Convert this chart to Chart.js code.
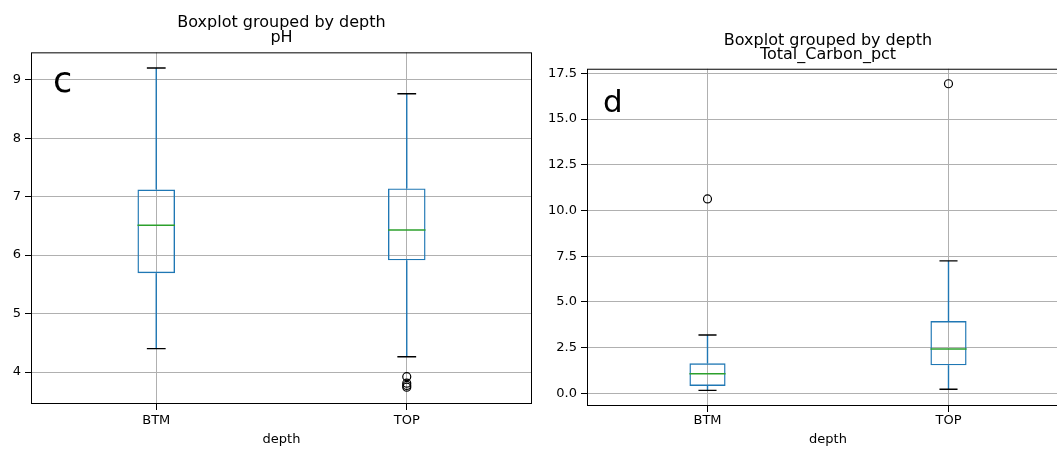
<!DOCTYPE html>
<html>
<head>
<meta charset="utf-8">
<script src="https://cdn.jsdelivr.net/npm/chart.js@4"></script>
<style>
  html, body { margin: 0; padding: 0; background: #fff; overflow: hidden; }
  #wrap { position: relative; width: 1057px; height: 449px; overflow: hidden; }
  canvas { position: absolute; top: 0; }
  #phChart { left: 0; }
  #carbonChart { left: 546px; }
</style>
</head>
<body>
<div id="wrap">
  <canvas id="phChart" width="540" height="449"></canvas>
  <canvas id="carbonChart" width="540" height="449"></canvas>
</div>
<script>
// Categories
const depthLabels = ['BTM', 'TOP'];

// pH box statistics
const phWhiskerLow = [4.40, 4.26];
const phQ1 = [5.69, 5.91];
const phMedian = [6.51, 6.43];
const phQ3 = [7.12, 7.14];
const phWhiskerHigh = [9.20, 8.76];
const phOutliers = [[], [3.92, 3.81, 3.77, 3.74]];
const phTicks = [4, 5, 6, 7, 8, 9];
const phRange = [3.453, 9.468];

// Total carbon box statistics
const carbonWhiskerLow = [0.16, 0.22];
const carbonQ1 = [0.40, 1.53];
const carbonMedian = [1.07, 2.42];
const carbonQ3 = [1.64, 3.95];
const carbonWhiskerHigh = [3.19, 7.24];
const carbonOutliers = [[10.63], [16.93]];
const carbonTicks = [0, 2.5, 5, 7.5, 10, 12.5, 15, 17.5];
const carbonRange = [-0.695, 17.75];

const FONT = 'DejaVu Sans';
const BLUE = '#1f77b4';
const GREEN = '#2ca02c';
const GRID = '#b0b0b0';

// whiskers, caps, medians, frame and panel letter
function boxPlugin(low, high, median, letter, dx, dy, size) {
    return {
        id: 'boxExtras',
        afterDatasetsDraw(chart) {
            const { ctx, chartArea } = chart;
            const y = chart.scales.y;
            const bars = chart.getDatasetMeta(0).data;
            ctx.save();
            ctx.lineWidth = 1.4;
            bars.forEach((bar, i) => {
                const cx = bar.x;
                const half = bar.width / 2;
                const top = Math.min(bar.y, bar.base);
                const bottom = Math.max(bar.y, bar.base);
                const yHigh = y.getPixelForValue(high[i]);
                const yLow = y.getPixelForValue(low[i]);
                const yMed = y.getPixelForValue(median[i]);

                ctx.strokeStyle = BLUE;
                ctx.beginPath();
                ctx.moveTo(cx, top); ctx.lineTo(cx, yHigh);
                ctx.moveTo(cx, bottom); ctx.lineTo(cx, yLow);
                ctx.stroke();

                ctx.strokeStyle = '#000';
                ctx.beginPath();
                ctx.moveTo(cx - half / 2, yHigh); ctx.lineTo(cx + half / 2, yHigh);
                ctx.moveTo(cx - half / 2, yLow); ctx.lineTo(cx + half / 2, yLow);
                ctx.stroke();

                ctx.strokeStyle = GREEN;
                ctx.beginPath();
                ctx.moveTo(cx - half, yMed); ctx.lineTo(cx + half, yMed);
                ctx.stroke();
            });

            ctx.strokeStyle = '#000';
            ctx.lineWidth = 1;
            ctx.strokeRect(chartArea.left + 0.5, chartArea.top + 0.5,
                chartArea.right - chartArea.left - 1, chartArea.bottom - chartArea.top - 1);

            ctx.fillStyle = '#000';
            ctx.font = size + 'px "' + FONT + '"';
            ctx.textBaseline = 'alphabetic';
            ctx.fillText(letter, chartArea.left + dx, chartArea.top + dy);
            ctx.restore();
        }
    };
}

function makeChart(canvasId, opts) {
    const n = depthLabels.length;
    const outlierPoints = [];
    for (let i = 0; i < n; i++) {
        opts.outliers[i].forEach(v => outlierPoints.push({ x: depthLabels[i], y: v }));
    }
    return new Chart(document.getElementById(canvasId), {
        type: 'bar',
        data: {
            labels: depthLabels,
            datasets: [{
                data: depthLabels.map((_, i) => [opts.q1[i], opts.q3[i]]),
                backgroundColor: 'rgba(0,0,0,0)',
                borderColor: BLUE,
                borderWidth: 1.4,
                borderSkipped: false,
                categoryPercentage: 1,
                barPercentage: 0.15
            }, {
                type: 'line',
                data: outlierPoints,
                showLine: false,
                pointRadius: 4,
                pointBorderWidth: 1.2,
                pointBorderColor: '#000',
                pointBackgroundColor: 'rgba(0,0,0,0)'
            }]
        },
        options: {
            responsive: false,
            animation: false,
            layout: { padding: { left: 0, right: opts.padRight, top: 0, bottom: 0 } },
            plugins: {
                legend: { display: false },
                tooltip: { enabled: false },
                title: {
                    display: true,
                    text: ['Boxplot grouped by depth', opts.name],
                    fullSize: false,
                    color: '#000',
                    font: { family: FONT, size: 16, weight: 'normal', lineHeight: 0.92 },
                    padding: { top: opts.titleTop, bottom: opts.titleBottom }
                }
            },
            scales: {
                x: {
                    offset: true,
                    grid: { offset: false, color: GRID, tickColor: '#000', tickLength: 6, lineWidth: 1 },
                    border: { display: false },
                    ticks: { color: '#000', font: { family: FONT, size: 13 }, padding: opts.xTickPad },
                    title: {
                        display: true, text: 'depth', color: '#000',
                        font: { family: FONT, size: 13 }, padding: { top: 0, bottom: 1.5 }
                    },
                    afterFit: s => { s.height = opts.xHeight; }
                },
                y: {
                    min: opts.range[0],
                    max: opts.range[1],
                    grid: { color: GRID, tickColor: '#000', tickLength: 6, lineWidth: 1 },
                    border: { display: false },
                    afterBuildTicks: s => { s.ticks = opts.ticks.map(v => ({ value: v })); },
                    ticks: {
                        color: '#000',
                        font: { family: FONT, size: 13 },
                        padding: 4,
                        callback: v => opts.fmt(v)
                    },
                    afterFit: s => { s.width = opts.yWidth; }
                }
            }
        },
        plugins: [boxPlugin(opts.low, opts.high, opts.median, opts.letter, opts.letterDx, opts.letterDy, opts.letterSize)]
    });
}

makeChart('phChart', {
    name: 'pH',
    q1: phQ1, q3: phQ3, median: phMedian, low: phWhiskerLow, high: phWhiskerHigh,
    outliers: phOutliers, ticks: phTicks, range: phRange,
    fmt: v => String(v),
    letter: 'c', letterDx: 22, letterDy: 39.5, letterSize: 35,
    yWidth: 31, padRight: 8, xHeight: 45, xTickPad: 2.5,
    titleTop: 15.9, titleBottom: 7
});

makeChart('carbonChart', {
    name: 'Total_Carbon_pct',
    q1: carbonQ1, q3: carbonQ3, median: carbonMedian, low: carbonWhiskerLow, high: carbonWhiskerHigh,
    outliers: carbonOutliers, ticks: carbonTicks, range: carbonRange,
    fmt: v => v.toFixed(1),
    letter: 'd', letterDx: 16, letterDy: 43, letterSize: 31,
    yWidth: 41, padRight: 17, xHeight: 43, xTickPad: 1,
    titleTop: 33.2, titleBottom: 6.1
});
</script>
</body>
</html>
